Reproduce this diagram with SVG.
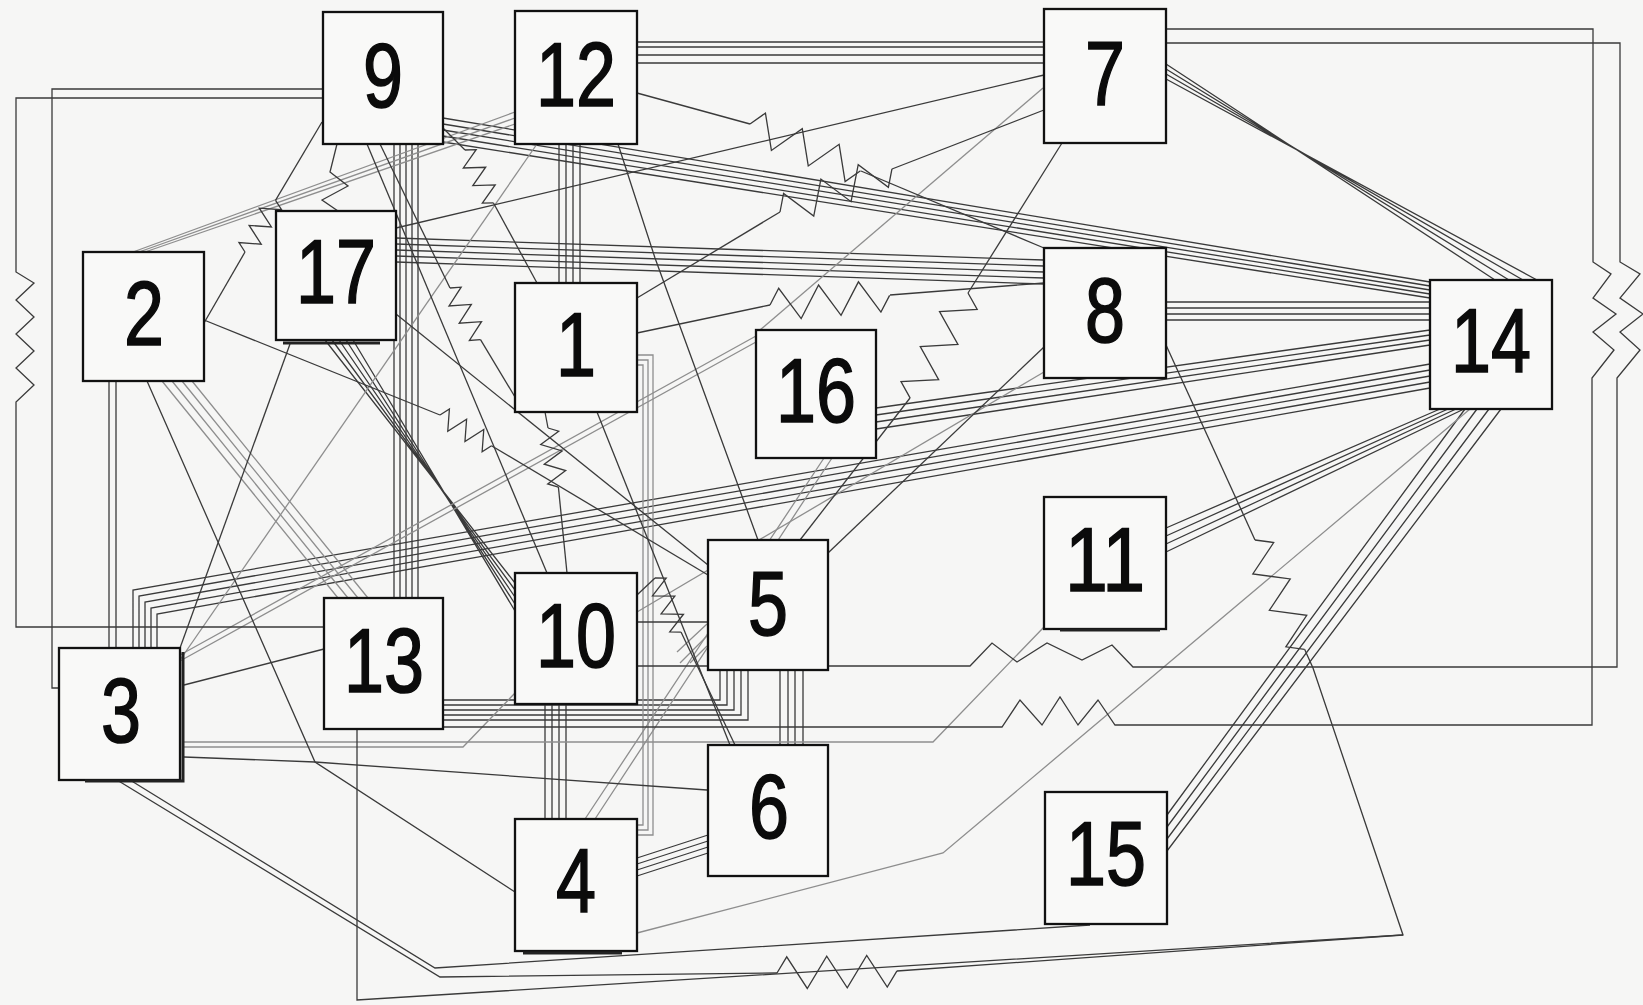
<svg xmlns="http://www.w3.org/2000/svg" xmlns:xlink="http://www.w3.org/1999/xlink" width="1643" height="1005" viewBox="0 0 1643 1005">
<style>
.bg{fill:#f6f6f5}
.n rect{fill:#f9f9f8;stroke:#111;stroke-width:2.3}
.n text{font-family:"Liberation Sans",Arial,sans-serif;font-size:90px;fill:#0b0b0b;stroke:#0b0b0b;stroke-width:1.6;text-anchor:middle}
.sh{stroke:#222;stroke-width:3;fill:none}
.c{fill:none;stroke:#3a3a3a;stroke-width:1.3}
.g{fill:none;stroke:#8e8e8e;stroke-width:1.3}
</style>
<defs>
<path id="zz" d="M0,0 l10,-16 l20,32 l20,-32 l20,32 l20,-32 l20,32 l10,-16"/>
<path id="zzs" d="M0,0 l5,-10 l10,20 l10,-20 l10,20 l10,-20 l10,20 l5,-10"/>
</defs>
<rect class="bg" x="0" y="0" width="1643" height="1005"/>
<g id="connectors">
<g class="c">
<path d="M637,42H1044M637,47H1044M637,55H1044M637,63H1044"/>
<path d="M1166,64L1495,280M1166,69L1509,280M1166,74L1523,280M1166,79L1537,280"/>
<path d="M443,118L1430,282M443,124L1430,286M443,130L1430,290M443,136L1430,294M443,142L1430,298"/>
<path d="M396,238L1044,260M396,244L1044,266M396,250L1044,272M396,256L1044,278M396,262L1044,284"/>
<path d="M1166,302H1430M1166,308H1430M1166,314H1430M1166,320H1430"/>
<path d="M1430,330L876,408M1430,335L876,415M1430,340L876,422M1430,345L876,429"/>
<path d="M1430,364L133,590V648M1430,370L139,596V648M1430,376L145,602V648M1430,382L151,608V648M1430,388L157,614V648"/>
<path d="M1440,409L1166,528M1448,409L1166,536M1456,409L1166,544M1464,409L1166,552"/>
<path d="M1465,409L1167,815M1477,409L1167,827M1489,409L1167,839M1501,409L1167,851"/>
<path d="M394,144V598M400,144V598M406,144V598M412,144V598M418,144V598"/>
<path d="M559,144V283M566,144V283M573,144V283M580,144V283"/>
<path d="M545,704V819M552,704V819M559,704V819M566,704V819"/>
<path d="M780,670V745M788,670V745M795,670V745M803,670V745"/>
<path d="M443,700H720V670M443,705H727V670M443,710H734V670M443,715H741V670M443,720H748V670"/>
<path d="M637,858L708,835M637,864L708,841M637,870L708,847M637,876L708,853"/>
<path d="M109,381V648M116,381V648"/>
<path d="M325,340L515,583M332,340L515,590M339,340L515,597M346,340L515,604M353,340L515,611"/>
</g>
<g class="g">
<path d="M162,381L338,598M172,381L348,598M182,381L358,598M192,381L368,598"/>
<path d="M133,252L515,112M139,252L515,118M145,252L515,124"/>
<path d="M637,355H653V835H637M637,360H648V830H637M637,365H643V825H637"/>
<path d="M180,655L756,336M180,661L756,342"/>
<path d="M824,458L585,819M832,458L595,819"/>
<path d="M184,742H933L1044,627"/>
<path d="M184,747H463L515,693"/>
<path d="M1470,409L943,853L637,933"/>
<path d="M537,144L180,660"/>
<path d="M1043,88L760,330"/>
<path d="M1044,372L637,612"/>
<path d="M680,663L707,636M690,663L707,646M677,652L707,624"/>
</g>
<g class="c">
<path d="M323,98H16V272L34,283L16,300L34,317L16,334L34,351L16,368L34,385L16,402V627H324"/>
<path d="M323,89H52V688H59"/>
<path d="M1166,29H1593V262L1611,274L1593,298L1616,314L1593,332L1614,350L1592,378V725H1115L1098,700L1078,725L1060,697L1042,725L1020,700L1002,727H443"/>
<path d="M1166,43H1620V262L1640,274L1620,298L1643,314L1620,332L1640,350L1617,378V667H1133L1112,645L1082,660L1047,643L1017,662L992,643L970,666H637"/>
<path d="M396,228L1044,75"/>
<path d="M637,93L750,124"/><use xlink:href="#zz" transform="translate(750,124) rotate(22.9)"/><path d="M861,171L1044,248"/>
<path d="M637,298L780,212"/><use xlink:href="#zz" transform="translate(780,212) rotate(-21.1)"/><path d="M892,169L1044,110"/>
<path d="M1062,143L968,293"/><use xlink:href="#zz" transform="translate(968,293) rotate(118.8)"/><path d="M910,398L800,540"/>
<path d="M637,333L770,305"/><use xlink:href="#zz" transform="translate(770,305) rotate(-4.6)"/><path d="M890,295L1044,283"/>
<path d="M1044,347L828,553"/>
<path d="M597,412L730,745"/>
<path d="M618,144L655,258L758,540"/>
<path d="M367,144L547,573"/>
<path d="M443,128L465,150"/><use xlink:href="#zzs" transform="translate(465,150) rotate(61.6)"/><path d="M493.5,203L537,283"/>
<path d="M380,144L450,288"/><use xlink:href="#zzs" transform="translate(450,288) rotate(59.4)"/><path d="M480.5,339.6L515,397"/>
<path d="M204,323L245,252"/><use xlink:href="#zzs" transform="translate(245,252) rotate(-59.4)"/><path d="M275.5,200.4L322,122"/>
<path d="M337,144L330,172L348,186L322,200L338,211"/>
<path d="M545,412L548,428"/><use xlink:href="#zzs" transform="translate(548,428) rotate(80)"/><path d="M558.4,487L567,573"/>
<path d="M637,595L655,578"/><use xlink:href="#zzs" transform="translate(655,578) rotate(64.4)"/><path d="M681,632L735,745"/>
<path d="M204,320L440,415"/><use xlink:href="#zzs" transform="translate(440,415) rotate(30.8)"/><path d="M491.5,445.7L708,575"/>
<path d="M396,314L708,565"/>
<path d="M637,622H708"/>
<path d="M1166,345L1255,540"/><use xlink:href="#zz" transform="translate(1255,540) rotate(65.6)"/><path d="M1304.6,649.3L1313,668L1403,935L357,1000V729"/>
<path d="M117,780L440,977L777,973"/><use xlink:href="#zz" transform="translate(777,973) rotate(-1)"/><path d="M897,971L1403,935"/>
<path d="M130,780L435,968L1090,925"/>
<path d="M184,757L315,762L707,790"/>
<path d="M147,381L315,762L515,892"/>
<path d="M290,344L180,648"/>
<path d="M184,685L324,649"/>
</g>
</g>
<g id="node-9" class="n"><rect x="323" y="12" width="120" height="132"/><text x="383" y="107" textLength="40" lengthAdjust="spacingAndGlyphs">9</text></g>
<g id="node-12" class="n"><rect x="515" y="11" width="122" height="133"/><text x="576" y="106" textLength="80" lengthAdjust="spacingAndGlyphs">12</text></g>
<g id="node-7" class="n"><rect x="1044" y="9" width="122" height="134"/><text x="1105" y="105" textLength="40" lengthAdjust="spacingAndGlyphs">7</text></g>
<g id="node-17" class="n"><rect x="276" y="211" width="120" height="129"/><path class="sh" d="M283,343H380"/><text x="336" y="303" textLength="80" lengthAdjust="spacingAndGlyphs">17</text></g>
<g id="node-2" class="n"><rect x="83" y="252" width="121" height="129"/><text x="144" y="345" textLength="40" lengthAdjust="spacingAndGlyphs">2</text></g>
<g id="node-1" class="n"><rect x="515" y="283" width="122" height="129"/><text x="576" y="376" textLength="40" lengthAdjust="spacingAndGlyphs">1</text></g>
<g id="node-8" class="n"><rect x="1044" y="248" width="122" height="130"/><text x="1105" y="342" textLength="40" lengthAdjust="spacingAndGlyphs">8</text></g>
<g id="node-14" class="n"><rect x="1430" y="280" width="122" height="129"/><text x="1491" y="372" textLength="80" lengthAdjust="spacingAndGlyphs">14</text></g>
<g id="node-16" class="n"><rect x="756" y="330" width="120" height="128"/><text x="816" y="422" textLength="80" lengthAdjust="spacingAndGlyphs">16</text></g>
<g id="node-11" class="n"><rect x="1044" y="497" width="122" height="132"/><path class="sh" d="M1060,630H1160"/><text x="1105" y="591" textLength="80" lengthAdjust="spacingAndGlyphs">11</text></g>
<g id="node-5" class="n"><rect x="708" y="540" width="120" height="130"/><text x="768" y="635" textLength="40" lengthAdjust="spacingAndGlyphs">5</text></g>
<g id="node-10" class="n"><rect x="515" y="573" width="122" height="131"/><text x="576" y="667" textLength="80" lengthAdjust="spacingAndGlyphs">10</text></g>
<g id="node-13" class="n"><rect x="324" y="598" width="119" height="131"/><text x="384" y="692" textLength="80" lengthAdjust="spacingAndGlyphs">13</text></g>
<g id="node-3" class="n"><rect x="59" y="648" width="121" height="132"/><path class="sh" d="M183,652V781H85"/><text x="121" y="742" textLength="40" lengthAdjust="spacingAndGlyphs">3</text></g>
<g id="node-6" class="n"><rect x="708" y="745" width="120" height="131"/><text x="769" y="838" textLength="40" lengthAdjust="spacingAndGlyphs">6</text></g>
<g id="node-4" class="n"><rect x="515" y="819" width="122" height="132"/><path class="sh" d="M523,953H622"/><text x="576" y="912" textLength="40" lengthAdjust="spacingAndGlyphs">4</text></g>
<g id="node-15" class="n"><rect x="1045" y="792" width="122" height="132"/><text x="1106" y="885" textLength="80" lengthAdjust="spacingAndGlyphs">15</text></g>
</svg>
